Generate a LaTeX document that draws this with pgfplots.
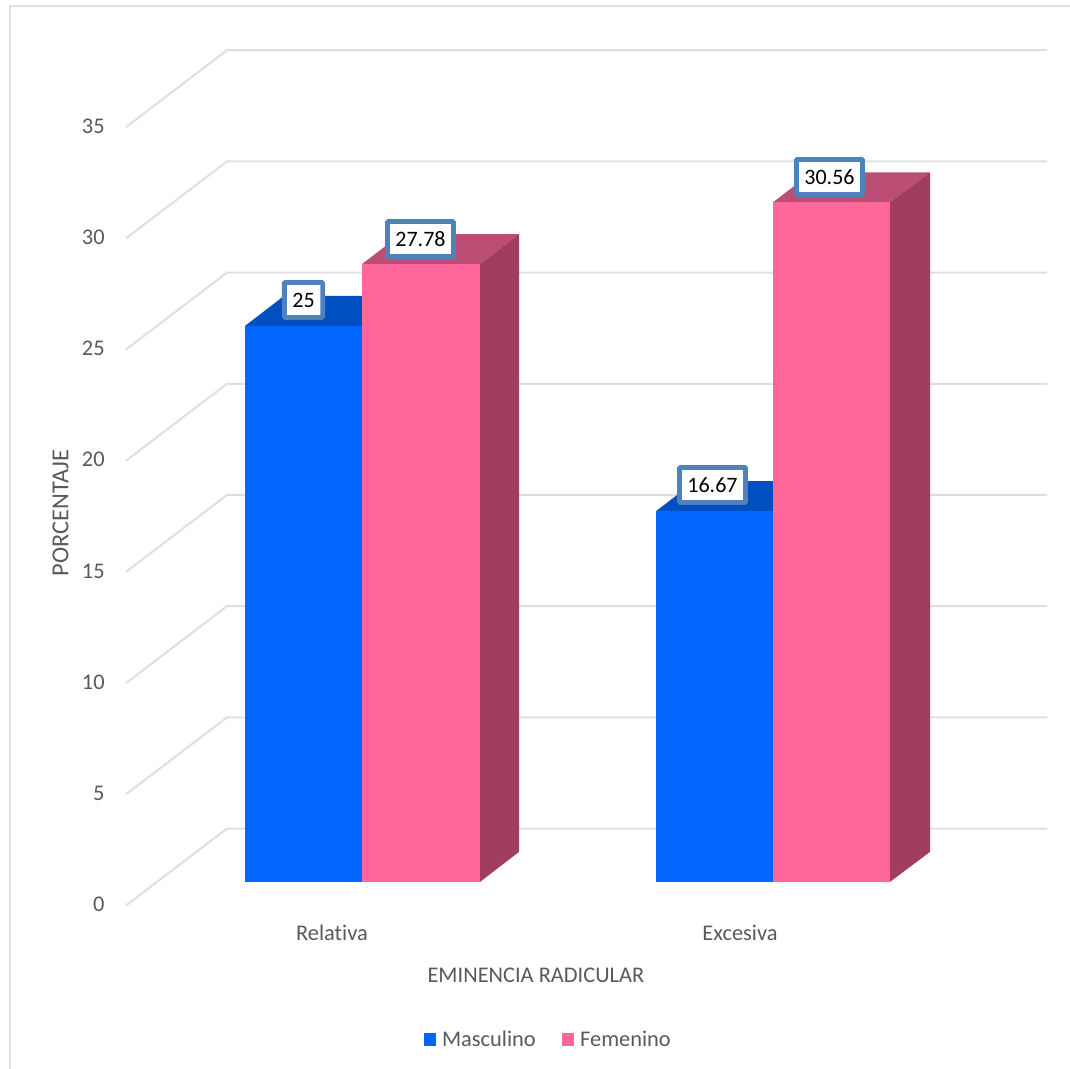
\documentclass[border=0pt]{standalone}
\usepackage{fontspec}
\setmainfont[Ligatures=NoCommon]{Carlito}
\usepackage{pgfplots}
\pgfplotsset{compat=1.18}
\definecolor{gridc}{HTML}{DFDFDF}
\definecolor{textc}{HTML}{595959}
\definecolor{masc}{HTML}{0066FF}
\definecolor{masctop}{HTML}{004FC0}
\definecolor{fem}{HTML}{FF6699}
\definecolor{femtop}{HTML}{BC4E75}
\definecolor{femside}{HTML}{A03D60}
\definecolor{boxc}{HTML}{4F81BD}
% 1 px of the reference = 0.5pt; x is in px, y in percent (22.24 px per unit)
\pgfplotsset{
  bar/.style={fill=#1, draw=none, forget plot, y filter/.expression={y+1.06}},
}
\begin{document}
\begin{tikzpicture}
\path[use as bounding box] (0,0) rectangle (535pt,534.5pt);
\begin{axis}[
  at={(63pt,81.75pt)}, anchor=south west,
  scale only axis, width=460.5pt, height=427.75pt,
  xmin=126, xmax=1047, ymin=0, ymax=38.47,
  clip=false,
  axis line style={draw=none},
  tick style={draw=none},
  font=\fontsize{11.2}{13}\selectfont,
  /pgf/number format/assume math mode=true,
  ytick={0,5,...,35},
  xtick={332,740},
  xticklabels={Relativa,Excesiva},
  tick label style={text=textc, inner sep=0pt},
  yticklabel style={xshift=-10.5pt, yshift=0.5pt, font=\fontsize{11.2}{13}\selectfont},
  xticklabel style={yshift=-9.5pt},
  xlabel={EMINENCIA RADICULAR},
  xlabel style={at={(axis description cs:0.445,-0.082)}, anchor=center, text=textc},
  ylabel={PORCENTAJE},
  ylabel style={at={(axis description cs:-0.071,0.459)}, anchor=center, rotate=0, text=textc,
    font=\fontsize{12.2}{14}\selectfont},
  legend columns=2,
  legend style={at={(axis description cs:0.4595,-0.157)}, anchor=center, draw=none, fill=none,
    text=textc, font=\fontsize{11.2}{13}\selectfont, inner sep=0pt,
    /tikz/every even column/.append style={column sep=11pt}},
  legend image code/.code={\fill[draw=none, #1] (0pt,-3.2pt) rectangle (6pt,3.2pt);
    \path (7pt,0pt);},
]
% walls
\addplot[gridc, line width=1pt, forget plot, unbounded coords=jump] coordinates {
  (126,0)(227,3.46)(1047,3.46)(126,nan)
  (126,5)(227,8.46)(1047,8.46)(126,nan)
  (126,10)(227,13.46)(1047,13.46)(126,nan)
  (126,15)(227,18.46)(1047,18.46)(126,nan)
  (126,20)(227,23.46)(1047,23.46)(126,nan)
  (126,25)(227,28.46)(1047,28.46)(126,nan)
  (126,30)(227,33.46)(1047,33.46)(126,nan)
  (126,35)(227,38.46)(1047,38.46)
};
% outer frame of the chart
\addplot[gridc, line width=1pt, forget plot] coordinates {(10,-7.4)(10,40.45)(1075,40.45)};
% Relativa
\addplot[bar=masctop] coordinates {(245,25)(284,26.35)(401,26.35)(362,25)} --cycle;
\addplot[bar=masc] coordinates {(245,0)(245,25)(362,25)(362,0)} --cycle;
\addplot[bar=femtop] coordinates {(362,27.78)(401,29.13)(519,29.13)(480,27.78)} --cycle;
\addplot[bar=femside] coordinates {(480,0)(519,1.35)(519,29.13)(480,27.78)} --cycle;
\addplot[bar=fem] coordinates {(362,0)(362,27.78)(480,27.78)(480,0)} --cycle;
% Excesiva
\addplot[bar=masctop] coordinates {(656,16.67)(695,18.02)(812,18.02)(773,16.67)} --cycle;
\addplot[bar=masc] coordinates {(656,0)(656,16.67)(773,16.67)(773,0)} --cycle;
\addplot[bar=femtop] coordinates {(773,30.56)(812,31.91)(930,31.91)(890,30.56)} --cycle;
\addplot[bar=femside] coordinates {(890,0)(930,1.35)(930,31.91)(890,30.56)} --cycle;
\addplot[bar=fem] coordinates {(773,0)(773,30.56)(890,30.56)(890,0)} --cycle;
% value boxes
\addplot[draw=none, mark=none, forget plot, point meta=explicit symbolic,
  nodes near coords,
  nodes near coords style={anchor=center, draw=boxc, fill=white, text=black,
    line width=2.4pt, inner xsep=4pt, inner ysep=0pt, minimum height=17.5pt,
    rounded corners=0.5pt, font=\fontsize{11}{13}\selectfont}]
  coordinates {(303.5,27.23)[25] (420.5,29.97)[27.78] (712.5,18.91)[16.67] (829.5,32.76)[30.56]};
\addlegendimage{fill=masc}
\addlegendentry{Masculino}
\addlegendimage{fill=fem}
\addlegendentry{Femenino}
\end{axis}
\end{tikzpicture}
\end{document}
